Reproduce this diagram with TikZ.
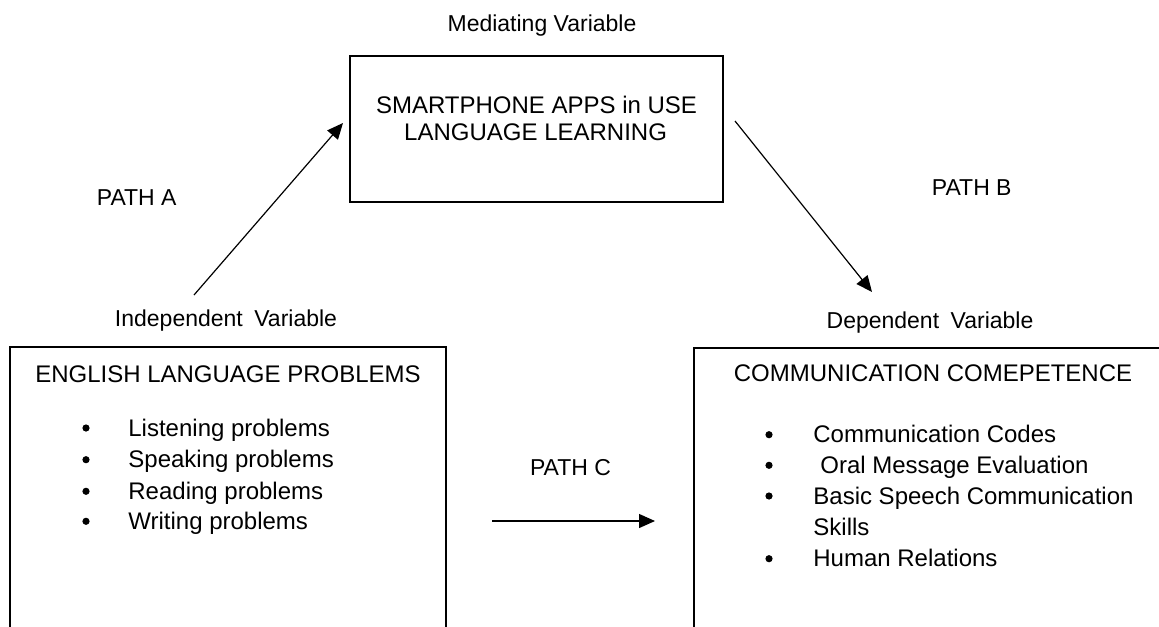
\documentclass[tikz,border=0pt]{standalone}
\usepackage{fontspec}
\setmainfont{Liberation Sans}
\usetikzlibrary{arrows.meta}
\begin{document}
\begin{tikzpicture}[x=0.5pt,y=-0.5pt,
  box/.style={draw,line width=1pt,inner sep=0pt},
  arr/.style={-{Triangle[length=8pt,width=7pt]},line width=0.6pt},
  lbl/.style={font=\fontsize{11.5}{13}\selectfont,inner sep=0pt,anchor=base},
  body/.style={font=\fontsize{12}{14}\selectfont,inner sep=0pt},
  item/.style={body,anchor=base west},
  bul/.style={circle,fill=black,inner sep=0pt,minimum size=3.6pt}]
\useasboundingbox (0,0) rectangle (1159,626);
\clip (0,0) rectangle (1159,626);
\fill[white] (0,0) rectangle (1159,626);

% boxes
\node[box,minimum width=186.5pt,minimum height=73pt] (med) at (536.5,129) {};
\node[box,minimum width=218pt,minimum height=156.5pt] (ind) at (228,503.5) {};
\node[box,minimum width=240.5pt,minimum height=156pt] (dep) at (934.5,504) {};

% labels
\node[lbl] (medlbl) at (542,31.5) {Mediating Variable};
\node[lbl] (indlbl) at (226,326.5) {Independent\hspace{0.5em}Variable};
\node[lbl] (deplbl) at (930,328) {Dependent\hspace{0.5em}Variable};
\node[lbl,anchor=base west] (pa) at (96.5,205.5) {PATH A};
\node[lbl,anchor=base west] (pb) at (931.5,195) {PATH B};
\node[lbl] (pc) at (570.5,475) {PATH C};

% mediating box text
\node[body,anchor=base] (m1) at (536.5,113.3) {SMARTPHONE APPS in USE};
\node[body,anchor=base] (m2) at (535.6,140) {LANGUAGE LEARNING};

% independent box text
\node[body,anchor=base] (it) at (228,382.7) {ENGLISH LANGUAGE PROBLEMS};
\node[bul] (ib1) at (86,428) {};
\node[item] (i1) at (128,436) {Listening problems};
\node[bul] (ib2) at (86,459.7) {};
\node[item] (i2) at (128,467.7) {Speaking problems};
\node[bul] (ib3) at (86,491.3) {};
\node[item] (i3) at (128,499.3) {Reading problems};
\node[bul] (ib4) at (86,521.3) {};
\node[item] (i4) at (128,529.3) {Writing problems};

% dependent box text
\node[body,anchor=base] (dt) at (933,381) {COMMUNICATION COMEPETENCE};
\node[bul] (db1) at (769,434.7) {};
\node[item] (d1) at (813,442.7) {Communication Codes};
\node[bul] (db2) at (769,465.3) {};
\node[item] (d2) at (820,473.3) {Oral Message Evaluation};
\node[bul] (db3) at (769,496) {};
\node[item] (d3) at (813,504) {Basic Speech Communication};
\node[item] (d3b) at (813,535) {Skills};
\node[bul] (db4) at (769,558.7) {};
\node[item] (d4) at (813,566.7) {Human Relations};

% arrows
\coordinate (aS) at (194,295);
\coordinate (aE) at (343,123);
\coordinate (bS) at (735,121);
\coordinate (bE) at (872,292);
\coordinate (cS) at (492,521);
\coordinate (cE) at (655,521);
\draw[arr] (aS) -- (aE);
\draw[arr] (bS) -- (bE);
\draw[arr] (cS) -- (cE);
\end{tikzpicture}
\end{document}
